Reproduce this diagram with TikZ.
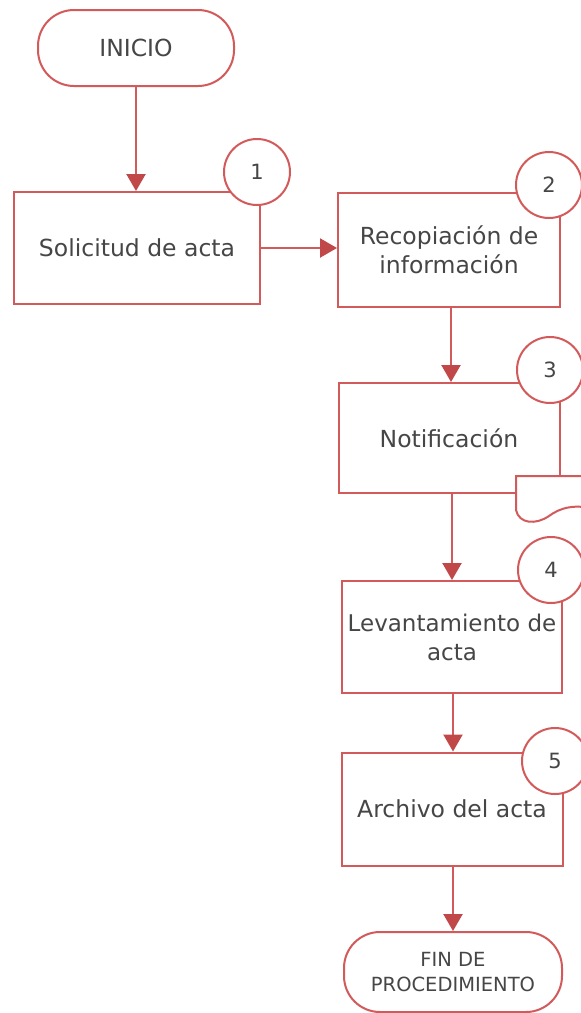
\documentclass[tikz,border=0pt]{standalone}
\usepackage{fontspec}
\setmainfont{DejaVu Sans}
\usetikzlibrary{arrows.meta}
\definecolor{lineRed}{RGB}{210,90,90}
\definecolor{tipRed}{RGB}{192,72,72}
\definecolor{txtGray}{RGB}{70,70,70}
\tikzset{
  stepbox/.style={draw=lineRed, line width=2pt, fill=white, align=center,
    text=txtGray, font=\fontsize{23.5}{29}\selectfont, inner sep=0pt},
  termbox/.style={draw=lineRed, line width=2pt, fill=white, align=center,
    text=txtGray, rounded corners=36pt, inner sep=0pt},
  numcirc/.style={circle, draw=lineRed, line width=2pt, fill=white,
    minimum size=66pt, inner sep=0pt, text=txtGray, font=\fontsize{21}{24}\selectfont},
  flow/.style={draw=lineRed, line width=2.2pt,
    -{Triangle[width=19pt,length=17pt,fill=tipRed,color=tipRed]}},
}
\begin{document}
\begin{tikzpicture}[x=1pt,y=-1pt]
\useasboundingbox (0,0) rectangle (581,1013);
\clip (0,0) rectangle (581,1013);
\fill[white] (0,0) rectangle (581,1013);

% terminators
\node[termbox, minimum width=196pt, minimum height=76pt,
  font=\fontsize{23.5}{28}\selectfont] (inicio) at (136,48) {INICIO};
\node[termbox, minimum width=218pt, minimum height=80pt,
  font=\fontsize{19.5}{25}\selectfont] (fin) at (453,972) {FIN DE\\PROCEDIMIENTO};

% process boxes
\node[stepbox, minimum width=246pt, minimum height=112pt] (b1) at (137,248) {Solicitud de acta};
\node[stepbox, minimum width=222pt, minimum height=114pt] (b2) at (449,250) {Recopiación de\\información};
\node[stepbox, minimum width=221pt, minimum height=110pt] (b3) at (449,438) {Notificación};
\node[stepbox, minimum width=220pt, minimum height=112pt,
  font=\fontsize{23}{29}\selectfont] (b4) at (452,637) {Levantamiento de\\acta};
\node[stepbox, minimum width=221pt, minimum height=113pt] (b5) at (452,809) {Archivo del acta};

% document shape overlapping Notificación
\filldraw[draw=lineRed, line width=2pt, fill=white]
  (600,476) -- (516,476) -- (516,510)
  .. controls (519,524) and (536,525) .. (549,516)
  .. controls (560,508) and (574,503) .. (600,510) -- cycle;

% number circles
\node[numcirc] (n1) at (257,172) {1};
\node[numcirc] (n2) at (549,185) {2};
\node[numcirc] (n3) at (550,370) {3};
\node[numcirc] (n4) at (551,570) {4};
\node[numcirc] (n5) at (555,761) {5};

% connectors
\draw[flow] (inicio.south) -- (inicio.south |- b1.north);
\draw[flow] (b1.east) -- (b1.east -| b2.west);
\draw[flow] (b2.south -| 451,0) -- (b3.north -| 451,0);
\draw[flow] (b3.south -| 452,0) -- (b4.north -| 452,0);
\draw[flow] (b4.south -| 453,0) -- (b5.north -| 453,0);
\draw[flow] (b5.south -| 453,0) -- (fin.north -| 453,0);
\end{tikzpicture}
\end{document}
